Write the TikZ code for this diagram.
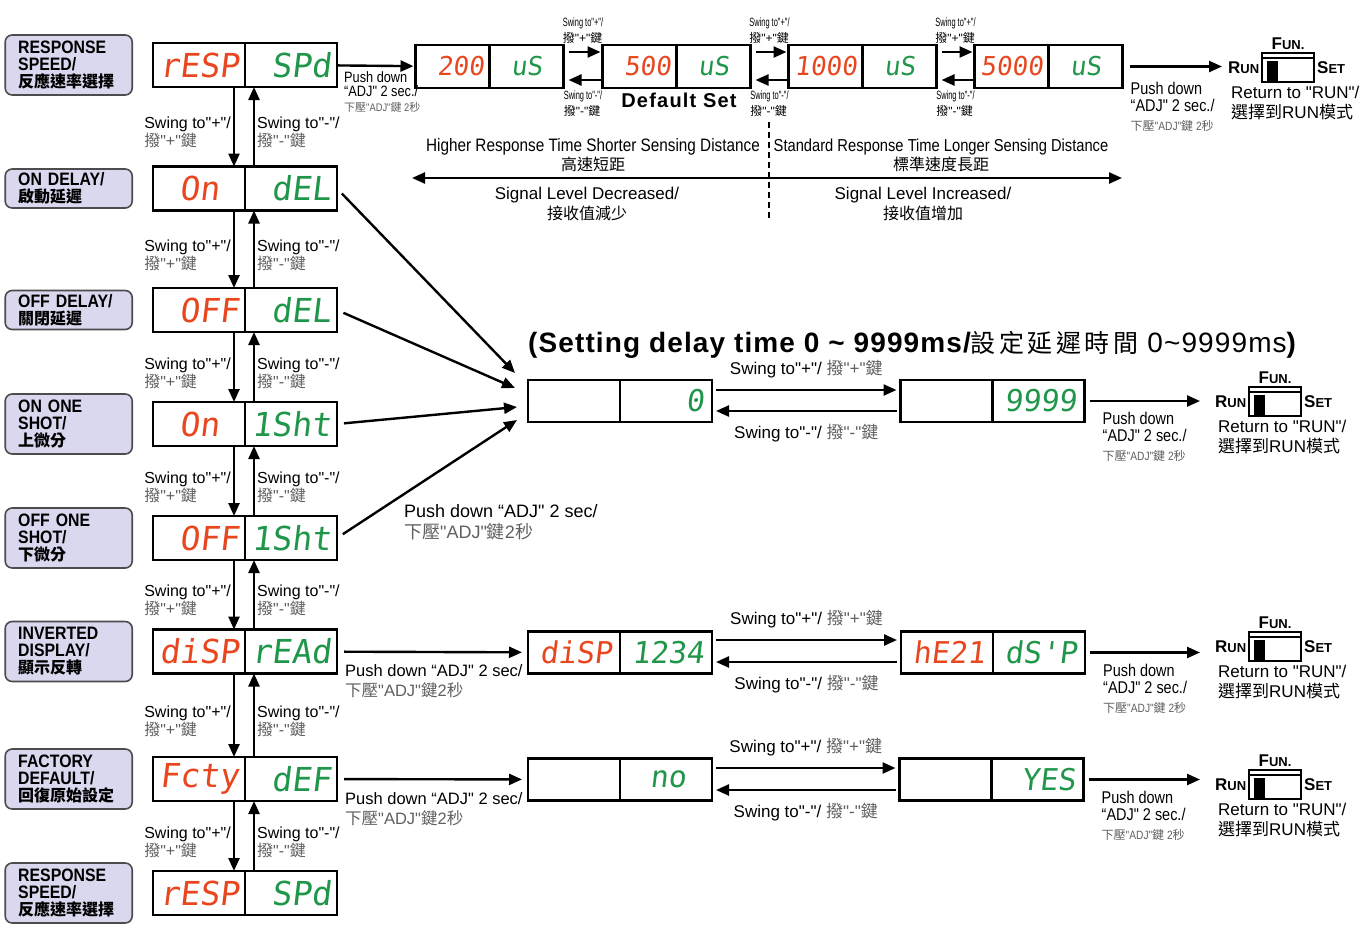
\documentclass[tikz,border=0pt]{standalone}
\usepackage{fontspec}
\setmainfont[Ligatures=TeXOff]{Liberation Sans}
\newfontfamily\nar[Ligatures=TeXOff, FakeStretch=0.85]{Liberation Sans}
\newfontfamily\tnar[Ligatures=TeXOff, FakeStretch=0.62]{Liberation Sans}
\newfontfamily\bnar[Ligatures=TeXOff, FakeStretch=0.88]{Liberation Sans}
\newfontfamily\cjk{Noto Sans CJK TC}
\newfontfamily\lcd[Ligatures=TeXOff, FakeSlant=0.12]{DejaVu Sans Mono}
\usetikzlibrary{arrows.meta, positioning, calc}
\definecolor{segred}{RGB}{232,70,30}
\definecolor{seggreen}{RGB}{32,150,74}
\definecolor{lav}{RGB}{217,216,238}
\definecolor{txtgray}{RGB}{95,95,95}

\begin{document}
\begin{tikzpicture}[x=1pt, y=-1pt,
  arr/.style={line width=2.4pt, -{Triangle[length=13pt, width=11pt]}},
  lbl/.style={draw=black!70, line width=1.6pt, fill=lav, rounded corners=7pt, minimum width=127pt, text width=101pt, inner xsep=13pt, inner ysep=0pt, align=left, font=\bnar\bfseries\fontsize{18}{17}\selectfont},
  seg/.style={draw, line width=2.6pt, outer sep=0pt, inner ysep=0pt, align=right},
  lcdA/.style={seg, minimum width=92pt, minimum height=44pt, inner xsep=6pt, text width=80pt, font=\lcd\fontsize{33}{33}\selectfont},
  lcdB/.style={seg, minimum width=74pt, minimum height=43pt, inner xsep=5.5pt, text width=63pt, font=\lcd\fontsize{26}{26}\selectfont},
  lcdC/.style={seg, minimum width=92pt, minimum height=42pt, inner xsep=8pt, text width=76pt, font=\lcd\fontsize{30}{30}\selectfont},
  redtxt/.style={text=segred}, grntxt/.style={text=seggreen},
  swl/.style={align=left, inner sep=2pt, yshift=-6pt, font=\fontsize{16}{16}\selectfont},
  tinyl/.style={align=left, inner sep=1pt, font=\tnar\fontsize{12}{16}\selectfont},
  midl/.style={inner sep=3pt, font=\fontsize{17}{17}\selectfont},
  pushl/.style={anchor=north west, inner sep=0pt, align=left, font=\fontsize{16.5}{20}\selectfont},
  pushr/.style={anchor=north west, inner sep=0pt, align=left, font=\nar\fontsize{17}{17}\selectfont},
  swtxt/.style={inner sep=0pt, font=\bfseries},
  runsw/.pic={
    \node[swtxt, anchor=west] (-run) at (0,0) {\fontsize{17}{17}\selectfont R\fontsize{13}{13}\selectfont UN};
    \draw[line width=1.5pt] (34,-15) rectangle (86,14);
    \draw[line width=1.2pt] (34,-10) -- (86,-10);
    \fill (39,-7) rectangle (50,14);
    \node[swtxt] (-fun) at (60,-24) {\fontsize{17}{17}\selectfont F\fontsize{13}{13}\selectfont UN.};
    \node[swtxt, anchor=west] (-set) at (89,0) {\fontsize{17}{17}\selectfont S\fontsize{13}{13}\selectfont ET};
    \node[anchor=north west, inner sep=0pt, align=left, font=\fontsize{17}{20}\selectfont] (-ret) at (3,18) {Return to "RUN"/\\{\cjk 選擇到}RUN{\cjk 模式}};
  }]
  \useasboundingbox (0,0) rectangle (1370,926);

  % menu column
  \node[lcdA, redtxt] (m1l) at (199,65) {rESP};
  \node[lcdA, grntxt, right=0pt of m1l] (m1r) {SPd};
  \node[lcdA, redtxt] (m2l) at (199,188.5) {On\hphantom{0}};
  \node[lcdA, grntxt, right=0pt of m2l] (m2r) {dEL};
  \node[lcdA, redtxt] (m3l) at (199,310) {OFF};
  \node[lcdA, grntxt, right=0pt of m3l] (m3r) {dEL};
  \node[lcdA, redtxt] (m4l) at (199,424) {On\hphantom{0}};
  \node[lcdA, grntxt, right=0pt of m4l] (m4r) {1Sht};
  \node[lcdA, redtxt] (m5l) at (199,538) {OFF};
  \node[lcdA, grntxt, right=0pt of m5l] (m5r) {1Sht};
  \node[lcdA, redtxt] (m6l) at (199,651.5) {diSP};
  \node[lcdA, grntxt, right=0pt of m6l] (m6r) {rEAd};
  \node[lcdA, redtxt] (m7l) at (199,779) {Fcty};
  \node[lcdA, grntxt, right=0pt of m7l] (m7r) {dEF};
  \node[lcdA, redtxt] (m8l) at (199,893) {rESP};
  \node[lcdA, grntxt, right=0pt of m8l] (m8r) {SPd};

  \node[lbl, minimum height=60pt, left=20pt of m1l] (l1) {RESPONSE\\SPEED/\\{\cjk\fontsize{16}{17}\selectfont 反應速率選擇}};
  \node[lbl, minimum height=39pt, left=20pt of m2l] (l2) {ON DELAY/\\{\cjk\fontsize{16}{17}\selectfont 啟動延遲}};
  \node[lbl, minimum height=39pt, left=20pt of m3l] (l3) {OFF DELAY/\\{\cjk\fontsize{16}{17}\selectfont 關閉延遲}};
  \node[lbl, minimum height=60pt, left=20pt of m4l] (l4) {ON ONE\\SHOT/\\{\cjk\fontsize{16}{17}\selectfont 上微分}};
  \node[lbl, minimum height=60pt, left=20pt of m5l] (l5) {OFF ONE\\SHOT/\\{\cjk\fontsize{16}{17}\selectfont 下微分}};
  \node[lbl, minimum height=60pt, left=20pt of m6l] (l6) {INVERTED\\DISPLAY/\\{\cjk\fontsize{16}{17}\selectfont 顯示反轉}};
  \node[lbl, minimum height=60pt, left=20pt of m7l] (l7) {FACTORY\\DEFAULT/\\{\cjk\fontsize{16}{17}\selectfont 回復原始設定}};
  \node[lbl, minimum height=60pt, left=20pt of m8l] (l8) {RESPONSE\\SPEED/\\{\cjk\fontsize{16}{17}\selectfont 反應速率選擇}};

  \foreach \a/\b in {1/2,2/3,3/4,4/5,5/6,6/7,7/8} {
    \draw[arr] ([xshift=-11pt]m\a l.south east) -- node[swl, left] {Swing to"+"/\\{\color{txtgray}{\cjk 撥}"+"{\cjk 鍵}}} ([xshift=-11pt]m\b l.north east);
    \draw[arr] ([xshift=9pt]m\b r.north west) -- node[swl, right] {Swing to"-"/\\{\color{txtgray}{\cjk 撥}"-"{\cjk 鍵}}} ([xshift=9pt]m\a r.south west);
  }

  % response speed row
  \node[lcdB, redtxt] (rs1l) at (452.5,66.5) {200};
  \node[lcdB, grntxt, right=0pt of rs1l] (rs1r) {uS\hphantom{0}};
  \node[lcdB, redtxt] (rs2l) at (639.5,66.5) {500};
  \node[lcdB, grntxt, right=0pt of rs2l] (rs2r) {uS\hphantom{0}};
  \node[lcdB, redtxt] (rs3l) at (825.5,66.5) {1000};
  \node[lcdB, grntxt, right=0pt of rs3l] (rs3r) {uS\hphantom{0}};
  \node[lcdB, redtxt] (rs4l) at (1011.5,66.5) {5000};
  \node[lcdB, grntxt, right=0pt of rs4l] (rs4r) {uS\hphantom{0}};

  \draw[arr, shorten >=2pt] (m1r) -- node[pos=0, anchor=north west, xshift=6pt, yshift=-5pt, inner sep=0pt, align=left, font=\nar\fontsize{15}{14}\selectfont] {Push down\\“ADJ" 2 sec./\\[1pt]{\color{txtgray}\fontsize{11}{14}\selectfont{\cjk 下壓}"ADJ"{\cjk 鍵} 2{\cjk 秒}}} (rs1l);

  \foreach \a/\b in {1/2,2/3,3/4} {
    \draw[arr, shorten <=5pt, shorten >=2pt] ([yshift=14.5pt]rs\a r.east) -- node[tinyl, above, yshift=6pt] {Swing to"+"/\\{\normalfont\fontsize{12}{16}\selectfont{\cjk 撥}"+"{\cjk 鍵}}} ([yshift=14.5pt]rs\b l.west);
    \draw[arr, shorten <=2pt, shorten >=5pt] ([yshift=-13.5pt]rs\b l.west) -- node[tinyl, below, yshift=-9pt] {Swing to"-"/\\{\normalfont\fontsize{12}{16}\selectfont{\cjk 撥}"-"{\cjk 鍵}}} ([yshift=-13.5pt]rs\a r.east);
  }
  \node[font=\bfseries\fontsize{20}{20}\selectfont\addfontfeatures{LetterSpace=6}] (dset) at (679,100) {Default Set};

  \pic (sw1) at (1228,68) {runsw};
  \draw[arr, shorten <=7pt, shorten >=6pt] (rs4r) -- node[pushr, pos=0, xshift=7pt, yshift=-14pt] {Push down\\“ADJ" 2 sec./\\[2pt]{\color{txtgray}\fontsize{12}{17}\selectfont{\cjk 下壓}"ADJ"{\cjk 鍵} 2{\cjk 秒}}} (rs4r -| sw1-run.west);

  \node[align=center, font=\nar\fontsize{18}{19}\selectfont] (fast) at (593,155) {Higher Response Time Shorter Sensing Distance\\{\cjk\fontsize{16}{19}\selectfont 高速短距}};
  \node[align=center, font=\nar\fontsize{17.3}{19}\selectfont] (slow) at (941,155) {Standard Response Time Longer Sensing Distance\\{\cjk\fontsize{16}{19}\selectfont 標準速度長距}};
  \coordinate (rl) at (412,178);
  \coordinate (rr) at (1122,178);
  \draw[arr, {Triangle[length=13pt, width=11pt]}-{Triangle[length=13pt, width=11pt]}] (rl) -- (rr);
  \coordinate (dtop) at (769,122);
  \coordinate (dbot) at (769,220);
  \draw[line width=2pt, dash pattern=on 6pt off 4pt] (dtop) -- (dbot);
  \node[align=center, font=\fontsize{17}{20}\selectfont] (dec) at (587,204) {Signal Level Decreased/\\{\cjk\fontsize{16}{20}\selectfont 接收值減少}};
  \node[align=center, font=\fontsize{17}{20}\selectfont] (inc) at (923,204) {Signal Level Increased/\\{\cjk\fontsize{16}{20}\selectfont 接收值增加}};

  % delay time
  \node[anchor=west, inner sep=0pt, font=\bfseries\fontsize{28}{28}\selectfont\addfontfeatures{LetterSpace=4}] (ttl) at (528,345) {(Setting delay time 0 \textasciitilde{} 9999ms/{\cjk\mdseries\fontsize{25}{28}\selectfont\addfontfeatures{LetterSpace=14}設定延遲時間} {\mdseries 0\textasciitilde 9999ms})};
  \node[lcdC, redtxt] (dly1l) at (574,401) {};
  \node[lcdC, grntxt, right=0pt of dly1l] (dly1r) {0};
  \node[lcdC, redtxt] (dly2l) at (946.5,401) {};
  \node[lcdC, grntxt, right=0pt of dly2l] (dly2r) {9999};

  \draw[arr, shorten <=4pt, shorten >=4pt] ([yshift=11pt]dly1r.east) -- node[midl, above, yshift=8pt] {Swing to"+"/ {\color{txtgray}{\cjk 撥}"+"{\cjk 鍵}}} ([yshift=11pt]dly2l.west);
  \draw[arr, shorten <=4pt, shorten >=4pt] ([yshift=-10pt]dly2l.west) -- node[midl, below, yshift=-9pt] {Swing to"-"/ {\color{txtgray}{\cjk 撥}"-"{\cjk 鍵}}} ([yshift=-10pt]dly1r.east);

  \draw[arr, shorten <=7pt] (m2r.east) -- ([xshift=-13pt, yshift=28pt]dly1l.west);
  \draw[arr, shorten <=7pt] (m3r.east) -- ([xshift=-13pt, yshift=13pt]dly1l.west);
  \draw[arr, shorten <=7pt] (m4r.east) -- ([xshift=-11pt, yshift=-6pt]dly1l.west);
  \draw[arr, shorten <=7pt] (m5r.east) -- node[pushl, pos=0.35, xshift=3pt, yshift=-7pt, font=\fontsize{18}{21}\selectfont] {Push down “ADJ" 2 sec/\\{\color{txtgray}{\cjk 下壓}"ADJ"{\cjk 鍵}2{\cjk 秒}}} ([xshift=-11pt, yshift=-19pt]dly1l.west);

  \pic (sw2) at (1215,402) {runsw};
  \draw[arr, shorten <=5pt, shorten >=15pt] (dly2r) -- node[pushr, pos=0, xshift=17pt, yshift=-10pt] {Push down\\“ADJ" 2 sec./\\[2pt]{\color{txtgray}\fontsize{12}{17}\selectfont{\cjk 下壓}"ADJ"{\cjk 鍵} 2{\cjk 秒}}} (dly2r -| sw2-run.west);

  % inverted display
  \node[lcdC, redtxt] (inv1l) at (574,652.5) {diSP};
  \node[lcdC, grntxt, right=0pt of inv1l] (inv1r) {1234};
  \node[lcdC, redtxt] (inv2l) at (947,652.5) {hE21};
  \node[lcdC, grntxt, right=0pt of inv2l] (inv2r) {dS'P};

  \draw[arr, shorten <=7pt, shorten >=6pt] (m6r) -- node[pushl, pos=0, xshift=7pt, yshift=-12pt] {Push down “ADJ" 2 sec/\\{\color{txtgray}{\cjk 下壓}"ADJ"{\cjk 鍵}2{\cjk 秒}}} (inv1l);
  \draw[arr, shorten <=4pt, shorten >=4pt] ([yshift=12.5pt]inv1r.east) -- node[midl, above, yshift=8pt] {Swing to"+"/ {\color{txtgray}{\cjk 撥}"+"{\cjk 鍵}}} ([yshift=12.5pt]inv2l.west);
  \draw[arr, shorten <=4pt, shorten >=4pt] ([yshift=-9.5pt]inv2l.west) -- node[midl, below, yshift=-9pt] {Swing to"-"/ {\color{txtgray}{\cjk 撥}"-"{\cjk 鍵}}} ([yshift=-9.5pt]inv1r.east);

  \pic (sw3) at (1215,647) {runsw};
  \draw[arr, shorten <=5pt, shorten >=15pt] (inv2r) -- node[pushr, pos=0, xshift=17pt, yshift=-10pt] {Push down\\“ADJ" 2 sec./\\[2pt]{\color{txtgray}\fontsize{12}{17}\selectfont{\cjk 下壓}"ADJ"{\cjk 鍵} 2{\cjk 秒}}} (inv2r -| sw3-run.west);

  % factory default
  \node[lcdC, redtxt] (fac1l) at (574,779.5) {};
  \node[lcdC, grntxt, right=0pt of fac1l] (fac1r) {no\hphantom{0}};
  \node[lcdC, redtxt] (fac2l) at (945.5,779.5) {};
  \node[lcdC, grntxt, right=0pt of fac2l] (fac2r) {YES};

  \draw[arr, shorten <=7pt, shorten >=6pt] (m7r) -- node[pushl, pos=0, xshift=7pt, yshift=-12pt] {Push down “ADJ" 2 sec/\\{\color{txtgray}{\cjk 下壓}"ADJ"{\cjk 鍵}2{\cjk 秒}}} (fac1l);
  \draw[arr, shorten <=4pt, shorten >=4pt] ([yshift=11.5pt]fac1r.east) -- node[midl, above, yshift=8pt] {Swing to"+"/ {\color{txtgray}{\cjk 撥}"+"{\cjk 鍵}}} ([yshift=11.5pt]fac2l.west);
  \draw[arr, shorten <=4pt, shorten >=4pt] ([yshift=-10.5pt]fac2l.west) -- node[midl, below, yshift=-9pt] {Swing to"-"/ {\color{txtgray}{\cjk 撥}"-"{\cjk 鍵}}} ([yshift=-10.5pt]fac1r.east);

  \pic (sw4) at (1215,785) {runsw};
  \draw[arr, shorten <=5pt, shorten >=15pt] (fac2r) -- node[pushr, pos=0, xshift=17pt, yshift=-10pt] {Push down\\“ADJ" 2 sec./\\[2pt]{\color{txtgray}\fontsize{12}{17}\selectfont{\cjk 下壓}"ADJ"{\cjk 鍵} 2{\cjk 秒}}} (fac2r -| sw4-run.west);
\end{tikzpicture}
\end{document}
